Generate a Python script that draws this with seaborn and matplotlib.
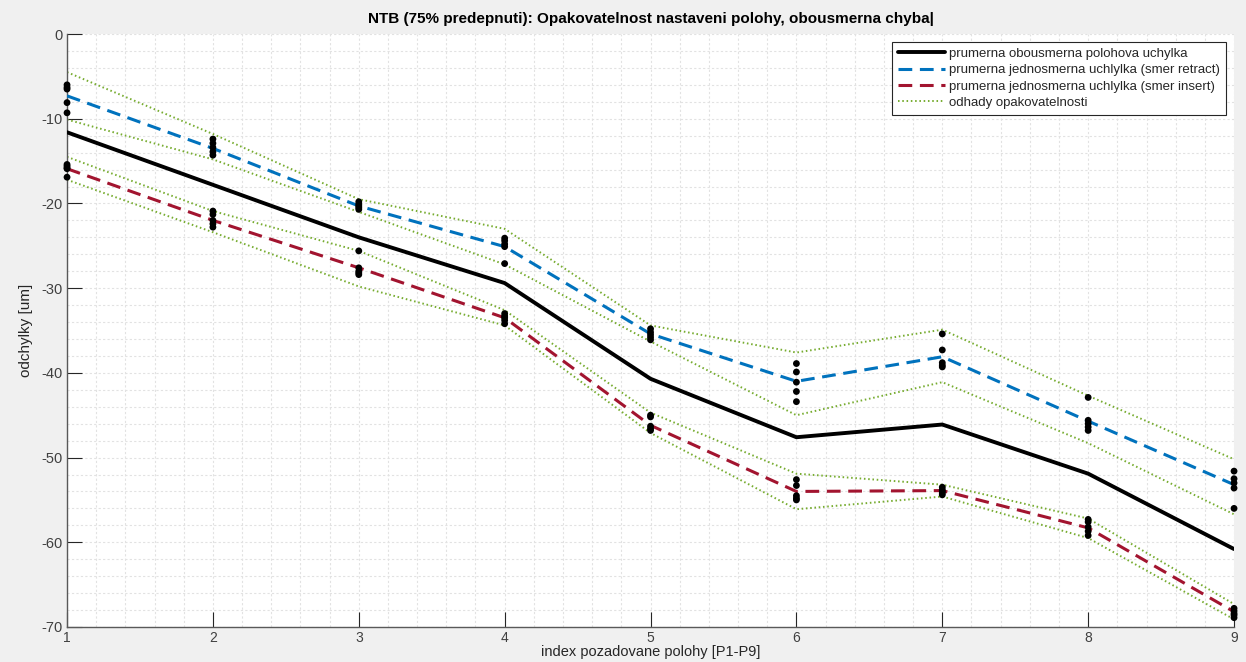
import matplotlib
matplotlib.use("Agg")
import matplotlib.pyplot as plt
from matplotlib.ticker import MultipleLocator
import seaborn as sns
import pandas as pd

sns.set_style("ticks")
plt.rcParams['font.family'] = ['Liberation Sans', 'DejaVu Sans']
plt.rcParams['axes.unicode_minus'] = False

# pozice P1-P9
positions = [1, 2, 3, 4, 5, 6, 7, 8, 9]

# prumerne uchylky [um]
bidir_mean = [-11.6, -17.8, -24.0, -29.4, -40.7, -47.6, -46.1, -51.9, -60.8]
retract_mean = [-7.3, -13.5, -20.3, -25.1, -35.4, -41.0, -38.1, -45.7, -53.2]
insert_mean = [-15.9, -22.0, -27.6, -33.5, -46.2, -54.0, -53.9, -58.3, -68.2]

# odhady opakovatelnosti (horni / dolni mez)
retract_upper = [-4.5, -11.8, -19.5, -23.0, -34.4, -37.6, -34.9, -42.7, -50.2]
retract_lower = [-10.1, -14.8, -21.0, -27.2, -36.3, -45.0, -41.1, -48.3, -56.7]
insert_upper = [-14.5, -20.9, -25.6, -32.6, -44.7, -51.9, -53.2, -57.2, -67.3]
insert_lower = [-17.2, -23.4, -29.8, -34.4, -47.1, -56.1, -54.6, -59.5, -69.1]

# namerene body (5 opakovani na pozici)
retract_pts = [
    [-6.0, -6.3, -6.5, -8.1, -9.3],
    [-12.4, -12.9, -13.4, -13.9, -14.3],
    [-19.8, -20.1, -20.3, -20.5, -20.7],
    [-24.1, -24.4, -24.8, -25.1, -27.1],
    [-34.8, -35.2, -35.5, -35.8, -36.1],
    [-38.9, -39.9, -41.1, -42.2, -43.4],
    [-35.4, -37.3, -38.8, -39.1, -39.3],
    [-42.9, -45.6, -46.0, -46.4, -46.8],
    [-51.6, -52.5, -53.0, -53.6, -56.0],
]
insert_pts = [
    [-15.4, -15.6, -15.8, -15.9, -16.9],
    [-20.9, -21.3, -22.0, -22.4, -22.8],
    [-25.6, -27.6, -28.0, -28.2, -28.4],
    [-33.0, -33.3, -33.5, -33.8, -34.2],
    [-45.0, -45.2, -46.3, -46.6, -46.8],
    [-52.6, -53.3, -54.5, -54.8, -55.0],
    [-53.5, -53.8, -54.0, -54.2, -54.4],
    [-57.3, -57.6, -58.2, -58.7, -59.2],
    [-67.8, -68.1, -68.4, -68.6, -68.9],
]

lines = pd.DataFrame({
    "x": positions,
    "bidir": bidir_mean,
    "retract": retract_mean,
    "insert": insert_mean,
    "r_up": retract_upper,
    "r_lo": retract_lower,
    "i_up": insert_upper,
    "i_lo": insert_lower,
})

pts_rows = []
for x, r, i in zip(positions, retract_pts, insert_pts):
    for v in r + i:
        pts_rows.append({"x": x, "y": v})
pts = pd.DataFrame(pts_rows)

blue = "#0072BD"
red = "#A2142F"
green = "#77AC30"

fig = plt.figure(figsize=(12.46, 6.62), dpi=100, facecolor="#f0f0f0")
ax = fig.add_axes([0.0538, 0.0529, 0.9366, 0.8957])
ax.set_facecolor("white")

sns.lineplot(data=lines, x="x", y="bidir", ax=ax, color="black", lw=2.8,
             label="prumerna obousmerna polohova uchylka", zorder=3)
sns.lineplot(data=lines, x="x", y="retract", ax=ax, color=blue, lw=2.2,
             label="prumerna jednosmerna uchlylka (smer retract)", zorder=3)
sns.lineplot(data=lines, x="x", y="insert", ax=ax, color=red, lw=2.2,
             label="prumerna jednosmerna uchlylka (smer insert)", zorder=3)
for col in ["r_up", "r_lo", "i_up", "i_lo"]:
    sns.lineplot(data=lines, x="x", y=col, ax=ax, color=green, lw=1.4,
                 label="odhady opakovatelnosti" if col == "r_up" else None, zorder=2)

ax.lines[1].set_dashes((4.5, 2.5))
ax.lines[2].set_dashes((4.5, 2.5))
for ln in ax.lines[3:]:
    ln.set_dashes((0.8, 1.4))

sns.scatterplot(data=pts, x="x", y="y", ax=ax, color="black", s=24,
                edgecolor="none", zorder=4, legend=False, clip_on=False)

ax.set_xlim(1, 9)
ax.set_ylim(-70, 0)
ax.xaxis.set_major_locator(MultipleLocator(1))
ax.yaxis.set_major_locator(MultipleLocator(10))
ax.xaxis.set_minor_locator(MultipleLocator(0.2))
ax.yaxis.set_minor_locator(MultipleLocator(2))
ax.grid(which="both", color="#e2e2e2", lw=0.8, linestyle=(0, (2, 2)))
ax.tick_params(which="major", direction="in", length=11, width=0.8,
               colors="#262626", labelsize=10.5, labelcolor="#404040")
ax.tick_params(which="minor", length=0)
ax.tick_params(axis="x", pad=3, labelsize=10)

for side in ["top", "right"]:
    ax.spines[side].set_visible(False)
for side in ["left", "bottom"]:
    ax.spines[side].set_color("#595959")
    ax.spines[side].set_linewidth(1.0)

ax.set_xlabel("index pozadovane polohy [P1-P9]", fontsize=10.5, color="#262626", labelpad=0)
ax.set_ylabel("odchylky [um]", fontsize=11, color="#262626", labelpad=6)
ax.set_title("NTB (75% predepnuti): Opakovatelnost nastaveni polohy, obousmerna chyba|",
             fontsize=11, fontweight="bold", color="black", pad=8)

leg = ax.legend(loc="upper right", fontsize=9.5, frameon=True, fancybox=False,
                borderaxespad=0.6, handlelength=3.6, labelspacing=0.3,
                borderpad=0.45, handletextpad=0.3)
leg.get_frame().set_edgecolor("#262626")
leg.get_frame().set_linewidth(0.8)
leg.get_frame().set_alpha(1.0)

fig.savefig("out.png", dpi=100, facecolor=fig.get_facecolor())
